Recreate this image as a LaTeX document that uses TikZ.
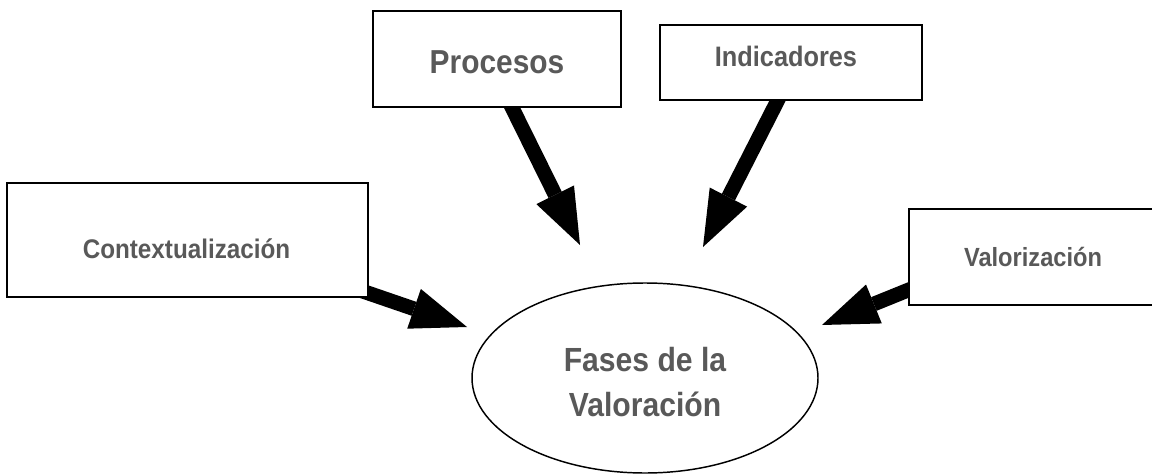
\documentclass[tikz,border=0pt]{standalone}
\usepackage{fontspec}
\setmainfont{Liberation Sans}[FakeStretch=0.9]
\usetikzlibrary{arrows.meta,calc,shapes.geometric}
\definecolor{labelgray}{HTML}{595959}
\pgfdeclarelayer{background}
\pgfsetlayers{background,main}
\tikzset{
	phasebox/.style={draw, line width=1.5pt, fill=white, inner sep=0pt},
	phaselabel/.style={text=labelgray, inner sep=0pt},
	fatarrow/.style={line width=11pt, -{Triangle[length=42pt, width=31.5pt, line width=0pt]}}
}

\begin{document}
\begin{tikzpicture}[x=0.75pt, y=-0.75pt]
			%%%%% START %%%%%
			\useasboundingbox (0, 0) rectangle (1152, 474);
			
			\node[phasebox, minimum width=186pt, minimum height=72pt] (proc) at (497, 59) {};
			\node[phaselabel, font=\bfseries\fontsize{24.9}{29}\selectfont] (procText) at (497, 62) {Procesos};
			
			\node[phasebox, minimum width=196.5pt, minimum height=56.25pt] (ind) at (791, 62.5) {};
			\node[phaselabel, font=\bfseries\fontsize{21.1}{25}\selectfont] (indText) at (786, 56) {Indicadores};
			
			\node[phasebox, minimum width=270.75pt, minimum height=85.5pt] (contx) at (187.5, 240) {};
			\node[phaselabel, font=\bfseries\fontsize{20.2}{24}\selectfont] (contxText) at (186.5, 249) {Contextualización};
			
			\node[phasebox, minimum width=186pt, minimum height=72pt] (val) at (1033, 257) {};
			\node[phaselabel, font=\bfseries\fontsize{19.7}{23}\selectfont] (valText) at (1033, 256.5) {Valorización};
			
			\node[draw, ellipse, line width=1.1pt, minimum width=259.5pt, minimum height=142.5pt, inner sep=0pt] (fases) at (645, 378) {};
			\node[phaselabel, align=center, font=\bfseries\fontsize{25.1}{33.75}\selectfont] (fasesText) at (645, 382.5) {Fases de la\\Valoración};
			
			\coordinate (procTip) at (580, 245);
			\coordinate (indTip) at (703, 247);
			\coordinate (contxTip) at (467, 327);
			\coordinate (valTip) at (822, 325);
			
			\begin{pgfonlayer}{background}
				\draw[fatarrow] ($(proc)+(-9, 0)$) -- (procTip);
				\draw[fatarrow] ($(ind)+(6, 0)$) -- (indTip);
				\draw[fatarrow] ($(contx.south east)+(-68, -28)$) -- (contxTip);
				\draw[fatarrow] ($(val.west)+(51, 12.5)$) -- (valTip);
			\end{pgfonlayer}
			
			%%%%% END %%%%%
\end{tikzpicture}
\end{document}
